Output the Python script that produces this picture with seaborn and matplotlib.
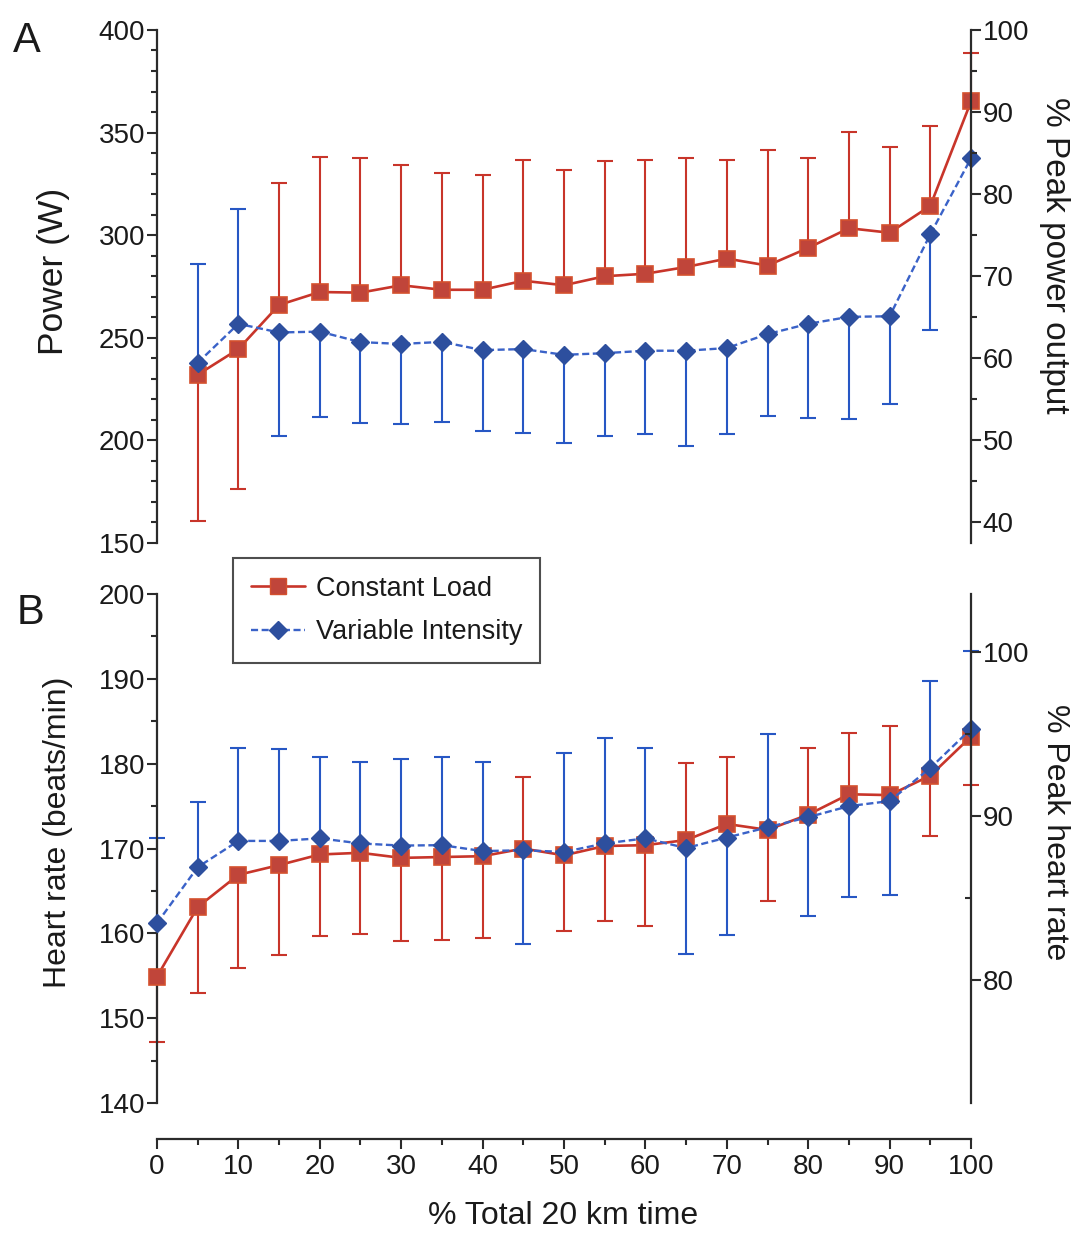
import matplotlib
matplotlib.use("Agg")
import matplotlib.pyplot as plt
import seaborn as sns
import numpy as np
from matplotlib.lines import Line2D
from matplotlib.ticker import MultipleLocator, FixedLocator

# x positions (% of total 20 km time)
x_power = [5, 10, 15, 20, 25, 30, 35, 40, 45, 50, 55, 60, 65, 70, 75, 80, 85, 90, 95, 100]
x_hr = [0, 5, 10, 15, 20, 25, 30, 35, 40, 45, 50, 55, 60, 65, 70, 75, 80, 85, 90, 95, 100]

# Panel A - power (W): mean and end of the (one-sided) error bar
power_cl = [232, 244.5, 266, 272.3, 272, 275.6, 273.4, 273.4, 277.8, 275.6,
            280, 281.2, 284.5, 288.6, 285.2, 293.8, 303.4, 301.2, 314.3, 365.2]
power_cl_cap = [160.5, 176.1, 325.2, 338.2, 337.5, 334.1, 330.3, 329.4, 336.5, 331.6,
                336.1, 336.5, 337.5, 336.6, 341.7, 337.8, 350.4, 342.9, 353.4, 388.6]
power_vi = [237.8, 256.8, 252.6, 253, 247.9, 247, 248, 244, 244.5, 241.7,
            242.5, 243.7, 243.7, 245, 251.8, 256.8, 260.2, 260.5, 300.5, 337.5]
power_vi_cap = [286.2, 312.8, 202.2, 211.4, 208.6, 208, 209.2, 204.5, 203.4, 198.7,
                202, 202.9, 197.1, 202.9, 212.1, 210.9, 210.4, 217.6, 253.8, 337.5]
peak_power = 400

# Panel B - heart rate (beats/min)
hr_cl = [154.9, 163.1, 166.9, 168.05, 169.3, 169.5, 168.9, 169, 169.1, 170.0, 169.2,
         170.3, 170.4, 171.0, 172.9, 172.2, 174.0, 176.4, 176.3, 178.6, 183.2]
hr_cl_cap = [147.2, 153.0, 155.95, 157.4, 159.7, 159.9, 159.05, 159.25, 159.46, 178.4, 160.3,
             161.5, 160.85, 180.1, 180.8, 163.8, 181.9, 183.6, 184.5, 171.5, 177.5]
hr_vi = [161.2, 167.8, 170.9, 170.9, 171.2, 170.6, 170.35, 170.4, 169.7, 169.8, 169.6,
         170.6, 171.2, 170.06, 171.3, 172.5, 173.7, 175.0, 175.6, 179.5, 184.1]
hr_vi_cap = [171.3, 175.5, 181.9, 181.7, 180.8, 180.2, 180.6, 180.8, 180.2, 158.7, 181.3,
             183.0, 181.9, 157.6, 159.8, 183.5, 162.1, 164.3, 164.5, 189.8, 193.3]
peak_hr = 193.2

series_names = ["Constant Load", "Variable Intensity"]

sns.set_style("ticks")
plt.rcParams["font.family"] = ["Liberation Sans", "DejaVu Sans"]
TEXT = "#1a1a1a"
plt.rcParams["text.color"] = TEXT
plt.rcParams["axes.labelcolor"] = TEXT
plt.rcParams["xtick.color"] = "#2b2b2b"
plt.rcParams["ytick.color"] = "#2b2b2b"
plt.rcParams["xtick.labelcolor"] = TEXT
plt.rcParams["ytick.labelcolor"] = TEXT

RED = "#c8352a"
RED_FACE = "#c0453a"
BLUE = "#3a62c8"
BLUE_ERR = "#2757c4"
BLUE_FACE = "#2d4f9e"
SPINE = "#2b2b2b"
TICK_FS = 20

fig = plt.figure(figsize=(10.75, 12.33), dpi=100)
ax_a = fig.add_axes([0.1460, 0.5596, 0.7573, 0.4161])
ax_b = fig.add_axes([0.1460, 0.1054, 0.7573, 0.4128])


def one_sided(mean, cap):
    mean = np.asarray(mean, float)
    cap = np.asarray(cap, float)
    lower = np.where(cap < mean, mean - cap, 0)
    upper = np.where(cap > mean, cap - mean, 0)
    return [lower, upper]


def draw_series(ax, x, mean, cap, red):
    color = RED if red else BLUE
    ax.errorbar(x, mean, yerr=one_sided(mean, cap), fmt="none",
                ecolor=RED if red else BLUE_ERR, elinewidth=1.5,
                capsize=5.5, capthick=1.5, zorder=2, clip_on=False)
    if red:
        sns.lineplot(x=x, y=mean, ax=ax, color=color, linewidth=1.9,
                     marker="s", markersize=11.5, markerfacecolor=RED_FACE,
                     markeredgecolor="#d4502e", markeredgewidth=1.2,
                     zorder=4, clip_on=False)
    else:
        sns.lineplot(x=x, y=mean, ax=ax, color=color, linewidth=1.7,
                     linestyle=(0, (3, 1.5)),
                     marker="D", markersize=9, markerfacecolor=BLUE_FACE,
                     markeredgecolor=BLUE_FACE, markeredgewidth=1,
                     zorder=5, clip_on=False)


# ---- Panel A: power
draw_series(ax_a, x_power, power_cl, power_cl_cap, True)
draw_series(ax_a, x_power, power_vi, power_vi_cap, False)
ax_a.set_xlim(0, 100)
ax_a.set_ylim(150, 400)
ax_a.yaxis.set_major_locator(MultipleLocator(50))
ax_a.yaxis.set_minor_locator(MultipleLocator(10))
ax_a.set_xticks([])
for s in ["top", "right", "bottom"]:
    ax_a.spines[s].set_visible(False)
ax_a.set_ylabel("Power (W)", fontsize=25.5)
ax_a.yaxis.set_label_coords(-0.107, 0.53)

ax_a2 = ax_a.twinx()
ax_a2.set_ylim(150 / peak_power * 100, 400 / peak_power * 100)
ax_a2.yaxis.set_major_locator(MultipleLocator(10))
ax_a2.yaxis.set_minor_locator(MultipleLocator(5))
for s in ["top", "left", "bottom"]:
    ax_a2.spines[s].set_visible(False)
ax_a2.set_ylabel("% Peak power output", fontsize=24, rotation=270, va="center")
ax_a2.yaxis.set_label_coords(1.103, 0.56)

# ---- Panel B: heart rate
draw_series(ax_b, x_hr, hr_cl, hr_cl_cap, True)
draw_series(ax_b, x_hr, hr_vi, hr_vi_cap, False)
ax_b.set_xlim(0, 100)
ax_b.set_ylim(140, 200)
ax_b.yaxis.set_major_locator(MultipleLocator(10))
ax_b.yaxis.set_minor_locator(MultipleLocator(5))
ax_b.xaxis.set_major_locator(MultipleLocator(10))
ax_b.xaxis.set_minor_locator(MultipleLocator(5))
for s in ["top", "right"]:
    ax_b.spines[s].set_visible(False)
ax_b.spines["bottom"].set_position(("outward", 26))
ax_b.set_ylabel("Heart rate (beats/min)", fontsize=23)
ax_b.yaxis.set_label_coords(-0.103, 0.532)
ax_b.set_xlabel("% Total 20 km time", fontsize=23, va="center")
ax_b.xaxis.set_label_coords(0.499, -0.222)

ax_b2 = ax_b.twinx()
ax_b2.set_ylim(140 / peak_hr * 100, 200 / peak_hr * 100)
ax_b2.yaxis.set_major_locator(FixedLocator([80, 90, 100]))
ax_b2.yaxis.set_minor_locator(FixedLocator([85, 95]))
for s in ["top", "left", "bottom"]:
    ax_b2.spines[s].set_visible(False)
ax_b2.set_ylabel("% Peak heart rate", fontsize=23, rotation=270, va="center")
ax_b2.yaxis.set_label_coords(1.103, 0.532)

for ax in [ax_a, ax_b, ax_a2, ax_b2]:
    for s in ax.spines.values():
        s.set_color(SPINE)
        s.set_linewidth(1.6)
    ax.tick_params(which="major", direction="out", length=7, width=1.5,
                   labelsize=TICK_FS, pad=1.5)
    ax.tick_params(which="minor", direction="out", length=4, width=1.5)
    ax.set_facecolor("none")
ax_b2.tick_params(which="minor", direction="in", length=4)
ax_b.tick_params(axis="x", which="major", pad=4)

# panel letters
fig.text(0.012, 0.983, "A", fontsize=30, va="top", ha="left")
fig.text(0.015, 0.519, "B", fontsize=30, va="top", ha="left")

# legend
handles = [
    Line2D([], [], color=RED, linewidth=1.9, marker="s", markersize=11.5,
           markerfacecolor=RED_FACE, markeredgecolor="#d4502e"),
    Line2D([], [], color=BLUE, linewidth=1.7, linestyle=(0, (3, 1.5)), marker="D",
           markersize=9, markerfacecolor=BLUE_FACE, markeredgecolor=BLUE_FACE),
]
leg = fig.legend(handles, series_names, loc="upper left",
                 bbox_to_anchor=(0.2167, 0.5474), fontsize=19.5, frameon=True,
                 fancybox=False, borderaxespad=0, handlelength=2.0,
                 handletextpad=0.4, borderpad=0.65, labelspacing=0.65)
leg.get_frame().set_edgecolor("#222222")
leg.get_frame().set_linewidth(1.5)

fig.savefig("out.png", dpi=100, facecolor="white")
